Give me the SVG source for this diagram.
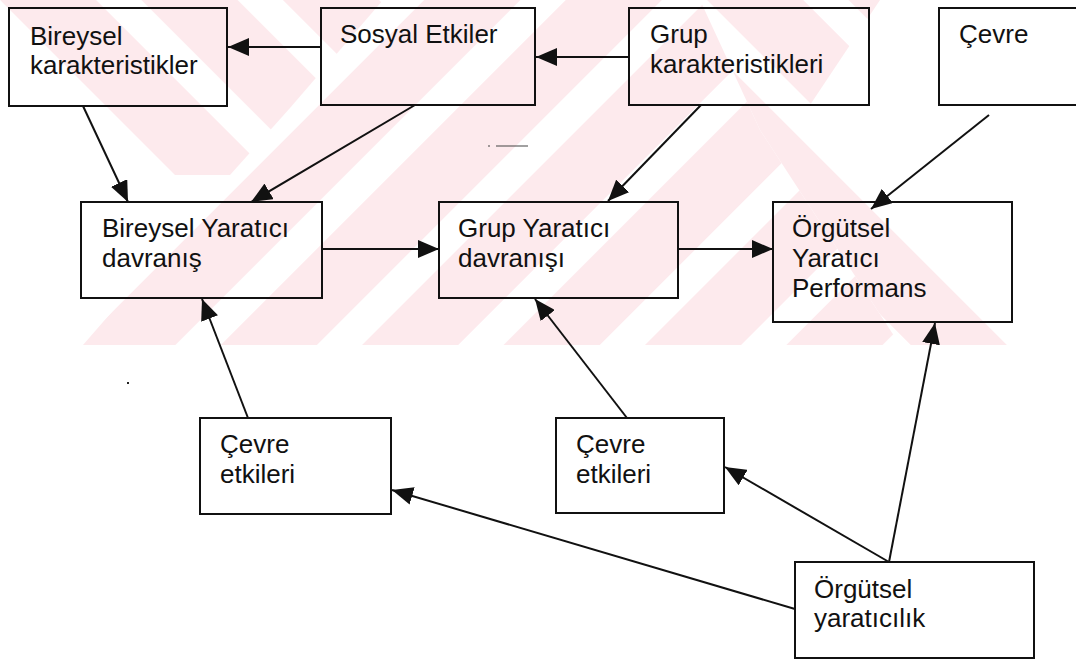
<svg xmlns="http://www.w3.org/2000/svg" width="1076" height="661" viewBox="0 0 1076 661">
  <style>
    .box { fill: none; stroke: #111; stroke-width: 2; }
    .lbl { font-family: "Liberation Sans", Arial, sans-serif; font-size: 26px; fill: #111; }
    .edge { stroke: #111; stroke-width: 2; fill: none; marker-end: url(#arrow); }
  </style>
  <defs>
    <marker id="arrow" markerUnits="userSpaceOnUse" markerWidth="21" markerHeight="18" viewBox="0 0 21 18" refX="21" refY="9" orient="auto">
      <path d="M0,0 L21,9 L0,18 z" fill="#111"/>
    </marker>
    <pattern id="slash" patternUnits="userSpaceOnUse" width="100" height="100" patternTransform="rotate(45)">
      <rect x="0" y="0" width="68" height="100" fill="#fdeaed"/>
    </pattern>
    <pattern id="back" patternUnits="userSpaceOnUse" width="100" height="100" patternTransform="rotate(-45)">
      <rect x="0" y="0" width="68" height="100" fill="#fdeaed"/>
    </pattern>
    <clipPath id="band">
      <rect x="0" y="0" width="1076" height="345"/>
    </clipPath>
  </defs>

  <rect width="1076" height="661" fill="#fff"/>

  <!-- background emblem -->
  <g id="emblem" clip-path="url(#band)">
    <polygon points="83,345 383,0 700,0 760,130 900,345" fill="url(#slash)"/>
    <polygon points="700,0 880,0 800,120 1040,345 900,345 760,130" fill="url(#back)"/>
    <polygon points="0,0 383,0 290,108 230,175 150,175" fill="url(#back)"/>
  </g>

  <!-- connectors -->
  <g id="connectors">
    <line class="edge" x1="321" y1="47" x2="228" y2="47"/>
    <line class="edge" x1="629" y1="57" x2="536" y2="57"/>
    <line class="edge" x1="83" y1="106" x2="128" y2="202"/>
    <line class="edge" x1="415" y1="105" x2="251" y2="202"/>
    <line class="edge" x1="701" y1="105" x2="608" y2="201"/>
    <line class="edge" x1="989" y1="115" x2="871" y2="209"/>
    <line class="edge" x1="322" y1="249" x2="439" y2="249"/>
    <line class="edge" x1="678" y1="249" x2="773" y2="249"/>
    <line class="edge" x1="248" y1="418" x2="202" y2="299"/>
    <line class="edge" x1="627" y1="418" x2="535" y2="299"/>
    <line class="edge" x1="889" y1="562" x2="935" y2="323"/>
    <line class="edge" x1="889" y1="562" x2="725" y2="467"/>
    <line class="edge" x1="795" y1="609" x2="392" y2="490"/>
  </g>

  <!-- stray marks -->
  <g id="marks">
    <line x1="488" y1="146" x2="533" y2="146" stroke="#444" stroke-width="1.2" stroke-dasharray="2 6 30 0"/>
    <rect x="127" y="382" width="2" height="2" fill="#222"/>
  </g>

  <g id="n-bireysel-kar">
    <rect class="box" x="9" y="8" width="218" height="98"/>
    <text class="lbl" x="30" y="45">Bireysel</text>
    <text class="lbl" x="30" y="74">karakteristikler</text>
  </g>
  <g id="n-sosyal">
    <rect class="box" x="321" y="8" width="214" height="97"/>
    <text class="lbl" x="340" y="43">Sosyal Etkiler</text>
  </g>
  <g id="n-grup-kar">
    <rect class="box" x="629" y="8" width="240" height="97"/>
    <text class="lbl" x="650" y="43">Grup</text>
    <text class="lbl" x="650" y="73">karakteristikleri</text>
  </g>
  <g id="n-cevre">
    <rect class="box" x="939" y="8" width="160" height="97"/>
    <text class="lbl" x="959" y="43">Çevre</text>
  </g>
  <g id="n-bireysel-yar">
    <rect class="box" x="81" y="202" width="241" height="96"/>
    <text class="lbl" x="102" y="237">Bireysel Yaratıcı</text>
    <text class="lbl" x="102" y="267">davranış</text>
  </g>
  <g id="n-grup-yar">
    <rect class="box" x="439" y="202" width="239" height="96"/>
    <text class="lbl" x="458" y="237">Grup Yaratıcı</text>
    <text class="lbl" x="458" y="267">davranışı</text>
  </g>
  <g id="n-orgutsel-perf">
    <rect class="box" x="773" y="202" width="239" height="120"/>
    <text class="lbl" x="792" y="237">Örgütsel</text>
    <text class="lbl" x="792" y="267">Yaratıcı</text>
    <text class="lbl" x="792" y="297">Performans</text>
  </g>
  <g id="n-cevre-etk1">
    <rect class="box" x="200" y="418" width="191" height="96"/>
    <text class="lbl" x="220" y="453">Çevre</text>
    <text class="lbl" x="220" y="483">etkileri</text>
  </g>
  <g id="n-cevre-etk2">
    <rect class="box" x="556" y="418" width="168" height="95"/>
    <text class="lbl" x="576" y="453">Çevre</text>
    <text class="lbl" x="576" y="483">etkileri</text>
  </g>
  <g id="n-orgutsel-yar">
    <rect class="box" x="795" y="562" width="239" height="96"/>
    <text class="lbl" x="814" y="598">Örgütsel</text>
    <text class="lbl" x="814" y="627">yaratıcılık</text>
  </g>
</svg>
